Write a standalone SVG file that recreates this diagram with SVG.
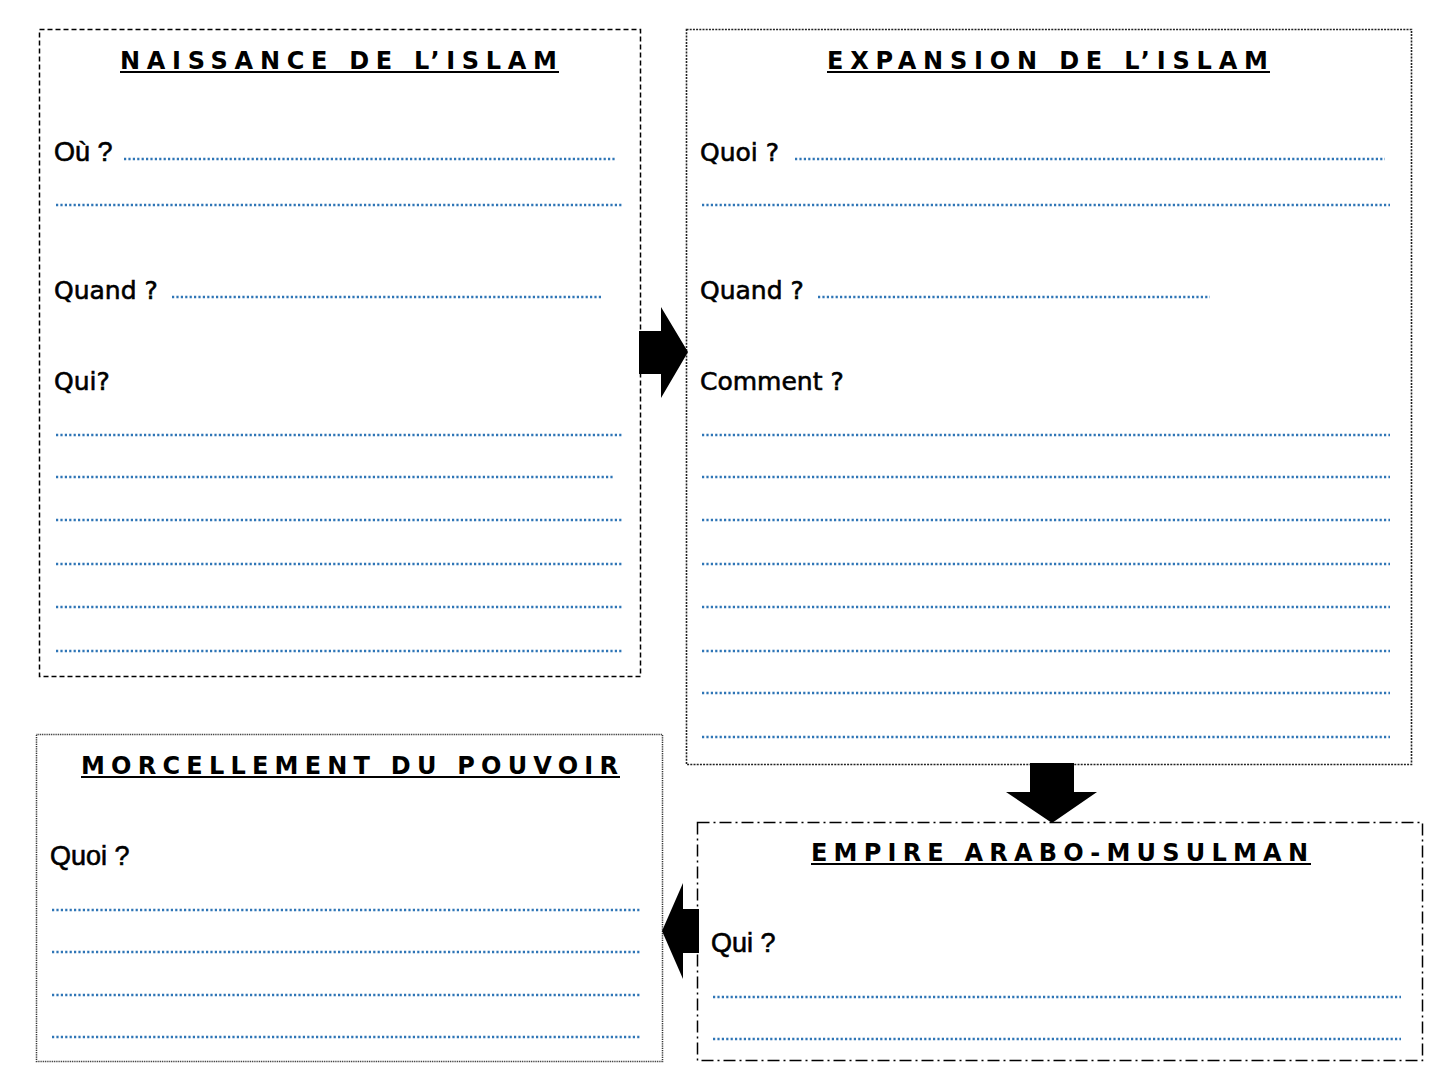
<svg xmlns="http://www.w3.org/2000/svg" width="1440" height="1080" viewBox="0 0 1440 1080">
<style>
.title{font-family:"DejaVu Sans",Verdana,sans-serif;font-weight:bold;font-size:24px;fill:#000}
.ul{stroke:#000;stroke-width:2}
.lab{font-family:"Liberation Sans",Arial,sans-serif;font-size:27px;fill:#000;stroke:#000;stroke-width:0.6}
.com{font-family:"DejaVu Sans",sans-serif;font-size:25px;fill:#000;stroke:#000;stroke-width:0.6}
.dots{stroke:#2E75B6;stroke-width:2.4;stroke-dasharray:2.2 2.2;fill:none}
.arrow{fill:#000}
</style>
<rect width="1440" height="1080" fill="#fff"/>
<g id="naissance">
<rect x="39.5" y="29.5" width="601" height="647" fill="none" stroke="#000" stroke-width="1.5" stroke-dasharray="5 3"/>
<text class="title" x="120" y="69" textLength="437" lengthAdjust="spacing">NAISSANCE DE L’ISLAM</text>
<line class="ul" x1="120" y1="72" x2="559" y2="72"/>
<text class="lab" x="54" y="161">Où ?</text>
<line class="dots" x1="124" y1="159" x2="615" y2="159"/>
<line class="dots" x1="56" y1="205" x2="622" y2="205"/>
<text class="com" x="54" y="299">Quand ?</text>
<line class="dots" x1="172" y1="297" x2="603" y2="297"/>
<text class="com" x="54" y="390">Qui?</text>
<line class="dots" x1="56" y1="435" x2="622" y2="435"/>
<line class="dots" x1="56" y1="477" x2="613" y2="477"/>
<line class="dots" x1="56" y1="520" x2="622" y2="520"/>
<line class="dots" x1="56" y1="564" x2="622" y2="564"/>
<line class="dots" x1="56" y1="607" x2="622" y2="607"/>
<line class="dots" x1="56" y1="651" x2="622" y2="651"/>
</g>
<g id="expansion">
<rect x="686.5" y="29.5" width="725" height="735" fill="none" stroke="#222" stroke-width="1.6" stroke-dasharray="2 1.2"/>
<text class="title" x="827" y="69" textLength="441" lengthAdjust="spacing">EXPANSION DE L’ISLAM</text>
<line class="ul" x1="827" y1="72" x2="1270" y2="72"/>
<text class="com" x="700" y="161">Quoi ?</text>
<line class="dots" x1="795" y1="159" x2="1385" y2="159"/>
<line class="dots" x1="702" y1="205" x2="1390" y2="205"/>
<text class="com" x="700" y="299">Quand ?</text>
<line class="dots" x1="818" y1="297" x2="1210" y2="297"/>
<text class="com" x="700" y="390">Comment ?</text>
<line class="dots" x1="702" y1="435" x2="1390" y2="435"/>
<line class="dots" x1="702" y1="477" x2="1390" y2="477"/>
<line class="dots" x1="702" y1="520" x2="1390" y2="520"/>
<line class="dots" x1="702" y1="564" x2="1390" y2="564"/>
<line class="dots" x1="702" y1="607" x2="1390" y2="607"/>
<line class="dots" x1="702" y1="651" x2="1390" y2="651"/>
<line class="dots" x1="702" y1="693" x2="1390" y2="693"/>
<line class="dots" x1="702" y1="737" x2="1390" y2="737"/>
</g>
<g id="morcellement">
<rect x="36.5" y="734.5" width="626" height="327" fill="none" stroke="#333" stroke-width="1.5" stroke-dasharray="1 0.8"/>
<text class="title" x="81" y="774" textLength="537" lengthAdjust="spacing">MORCELLEMENT DU POUVOIR</text>
<line class="ul" x1="81" y1="777" x2="620" y2="777"/>
<text class="lab" x="50" y="865">Quoi ?</text>
<line class="dots" x1="52" y1="910" x2="641" y2="910"/>
<line class="dots" x1="52" y1="952" x2="641" y2="952"/>
<line class="dots" x1="52" y1="995" x2="641" y2="995"/>
<line class="dots" x1="52" y1="1037" x2="641" y2="1037"/>
</g>
<g id="empire">
<rect x="697.5" y="822.5" width="725" height="238" fill="none" stroke="#000" stroke-width="1.5" stroke-dasharray="12 4 2 4"/>
<text class="title" x="811" y="861" textLength="497" lengthAdjust="spacing">EMPIRE ARABO-MUSULMAN</text>
<line class="ul" x1="811" y1="864" x2="1311" y2="864"/>
<text class="lab" x="711" y="952">Qui ?</text>
<line class="dots" x1="713" y1="997" x2="1401" y2="997"/>
<line class="dots" x1="713" y1="1039" x2="1401" y2="1039"/>
</g>
<g id="connectors">
<polygon class="arrow" points="639,331 661,331 661,307 688,352 661,398 661,374 639,374"/>
<polygon class="arrow" points="1030,763 1074,763 1074,792 1097,792 1052,823 1006,792 1030,792"/>
<polygon class="arrow" points="699,909 683,909 683,883 662,931 683,979 683,953 699,953"/>
</g>
</svg>
